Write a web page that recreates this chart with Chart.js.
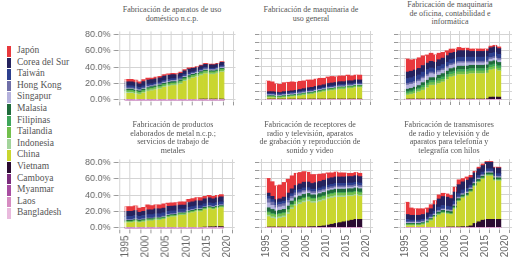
<!DOCTYPE html>
<html>
<head>
<meta charset="utf-8">
<script src="https://cdn.jsdelivr.net/npm/chart.js@4.4.1/dist/chart.umd.min.js"></script>
<style>
  body { margin: 0; background: #fff; width: 525px; height: 259px; position: relative; overflow: hidden; }
  .panel { position: absolute; }
  .title { position: absolute; font-family: "Liberation Serif", serif; font-size: 8px; line-height: 8.6px; color: #555; text-align: center; white-space: nowrap; transform: translateX(-50%); }
  #legend { position: absolute; left: 7px; top: 45px; font-family: "Liberation Serif", serif; font-size: 9.5px; color: #555; }
  #legend div { height: 11.6px; line-height: 11.6px; position: relative; padding-left: 10px; white-space: nowrap; }
  #legend span { position: absolute; left: 0; top: 1px; width: 4px; height: 10.6px; }
</style>
</head>
<body>
<div id="legend"></div>
<script>
const years = [1995,1996,1997,1998,1999,2000,2001,2002,2003,2004,2005,2006,2007,2008,2009,2010,2011,2012,2013,2014,2015,2016,2017,2018];
const countries = ["Japón","Corea del Sur","Taiwán","Hong Kong","Singapur","Malasia","Filipinas","Tailandia","Indonesia","China","Vietnam","Camboya","Myanmar","Laos","Bangladesh"];
const colors = ["#e8383d","#25235e","#2d3f8e","#6f6fa8","#b5b2dd","#1f6b3b","#3fa65b","#72bf4c","#a3d49b","#c9d62f","#2b0b31","#7b2c7c","#a84da1","#d68bc1","#e9badd"];
const xTicks = [1995,1997.5,2000,2002.5,2005,2007.5,2010,2012.5,2015,2017.5,2020];
const yTicks = [0,10,20,30,40,50,60,70,80];

// Fabricación de aparatos de uso doméstico n.c.p.
const hogarJapon    = [3,3,3,2.5,2.5,2.5,2,2,2,2,2,1.5,1.5,1.5,1.5,1.5,1.2,1.2,1,1,1,1,1,1];
const hogarCorea    = [5,5,5,4.5,5,5,5,5,5,5,5,5,4.5,4.5,4.5,4.5,4,4,4,4,4,4,4,4];
const hogarTaiwan   = [2.5,2.5,2.5,2.5,2.5,2.5,2,2,2,2,2,2,2,2,2,2,1.5,1.5,1.5,1.5,1.5,1.5,1.5,1.5];
const hogarHongKong = [0.8,0.8,0.8,0.8,0.8,0.8,0.8,0.8,0.8,0.8,0.8,0.8,0.8,0.8,0.8,0.8,0.8,0.8,0.8,0.8,0.8,0.8,0.8,0.8];
const hogarSingapur = [0.8,0.8,0.8,0.8,0.8,0.8,0.8,0.8,0.8,0.8,0.8,0.8,0.8,0.8,0.8,0.8,0.8,0.8,0.8,0.8,0.8,0.8,0.8,0.8];
const hogarMalasia  = [1.5,1.5,1.5,1.5,1.5,1.5,1.5,1.5,1.5,1.5,1.5,1.5,1.5,1.5,1.5,1.5,1.2,1.2,1.2,1.2,1.2,1.2,1.2,1.2];
const hogarFilipinas= [0.5,0.5,0.5,0.5,0.5,0.5,0.5,0.5,0.5,0.5,0.5,0.5,0.5,0.5,0.5,0.5,0.5,0.5,0.5,0.5,0.5,0.5,0.5,0.5];
const hogarTailandia= [2,2,2,2,2,2,2,2,2,2,2,2,2,2,2,2,2,2,2,2,2,2,2,2];
const hogarIndonesia= [1,1,1,1,1,1,1,1,1,1,1,1,1,1,1,1,1,1,1,1,1,1,1,1];
const hogarChina    = [8,8,7,6,8,10,11,12,13,15,16,17,17,19,22,24,26,27,29,31,30,30,31,33];
const hogarVietnam  = [0.2,0.2,0.2,0.2,0.3,0.3,0.3,0.4,0.4,0.5,0.5,0.5,0.6,0.6,0.7,0.8,0.8,0.9,1,1,1.1,1.1,1.2,1.2];

// Fabricación de maquinaria de uso general
const generalJapon    = [13,12,10,10,11,11,11,10,10,9.5,9.5,9,9,9,8,8,8,7,7,7,7,6,6,6];
const generalCorea    = [2,2,2,1.5,2,2,2,2,2.5,2.5,3,3,3,3,3,3.5,3.5,3.5,3.5,3.5,3.5,3.5,3.5,3.5];
const generalTaiwan   = [1.5,1.5,1.5,1.5,1.5,1.5,1.5,1.5,1.5,1.5,1.5,1.5,1.5,1.5,1.5,1.5,1.5,1.5,1.5,1.5,1.5,1.5,1.5,1.5];
const generalHongKong = [0.5,0.5,0.5,0.5,0.5,0.5,0.5,0.5,0.5,0.5,0.5,0.5,0.5,0.5,0.5,0.5,0.5,0.5,0.5,0.5,0.5,0.5,0.5,0.5];
const generalSingapur = [1,1,1,1,1,1,1,1,1,1,1,1,1,1,1,1,1,1,1,1,1,1,1,1];
const generalMalasia  = [0.7,0.7,0.7,0.7,0.7,0.7,0.7,0.7,0.7,0.7,0.7,0.7,0.7,0.7,0.7,0.7,0.7,0.7,0.7,0.7,0.7,0.7,0.7,0.7];
const generalFilipinas= [0.3,0.3,0.3,0.3,0.3,0.3,0.3,0.3,0.3,0.3,0.3,0.3,0.3,0.3,0.3,0.3,0.3,0.3,0.3,0.3,0.3,0.3,0.3,0.3];
const generalTailandia= [1,1,1,1,1,1,1,1,1.2,1.2,1.2,1.2,1.3,1.3,1.3,1.4,1.4,1.5,1.5,1.5,1.5,1.5,1.5,1.5];
const generalIndonesia= [0.5,0.5,0.5,0.5,0.5,0.5,0.5,0.5,0.5,0.5,0.5,0.5,0.5,0.5,0.5,0.5,0.5,0.5,0.5,0.5,0.5,0.5,0.5,0.5];
const generalChina    = [2,2,1.5,1.5,2,2.5,3,3.5,4,5,5.5,6,7,8,9,10,10.5,11,12,12,13,13,14,14];
const generalVietnam  = [0.2,0.2,0.2,0.2,0.2,0.2,0.2,0.2,0.2,0.2,0.3,0.3,0.3,0.3,0.3,0.3,0.4,0.4,0.4,0.4,0.5,0.5,0.5,0.5];

// Fabricación de maquinaria de oficina, contabilidad e informática
const oficinaJapon    = [16,14,13,13,12,10,10,9,8,7,6,5,4,4,3,3,3,3,3,3,2.5,2,2,2];
const oficinaCorea    = [8,8,8,8,8,8,8,8,8,8,8,8,8,8,8,8,7,7,7,7,7,7,7,7];
const oficinaTaiwan   = [6,6,6,6,6,6,5,5,5,5,5,5,5,5,5,5,5,5,5,5,5,5,5,5];
const oficinaHongKong = [2,2,2,2,2,2,2,2,2,2,2,2,2,2,2,2,2,2,2,2,2,2,2,2];
const oficinaSingapur = [5,5,5,5,5,5,5,4,4,4,4,4,4,4,4,4,3,3,3,3,3,3,3,3];
const oficinaMalasia  = [3,3,3,3,3.5,3.5,3.5,3.5,4,4,4,4,4,4,4,4,4,4,4,4,4,4,4,4];
const oficinaFilipinas= [2,2,2,2,2.5,2.5,2.5,2.5,3,3,3,3,3,3,3,3,3,3,3,3,3,3,3,3];
const oficinaTailandia= [2,2,2.5,2.5,3,3,3,3,3,3,3,3,3,3,3,3,3,3,3,3,3,3,3,3];
const oficinaIndonesia= [0.5,0.5,0.5,0.5,0.5,0.5,0.5,0.5,0.5,0.5,0.5,0.5,0.5,0.5,0.5,0.5,0.5,0.5,0.5,0.5,0.5,0.5,0.5,0.5];
const oficinaChina    = [5,6,7,9,11,14,17,17,19,21,24,27,28,30,30,30,31,31,31,31,31,33,34,32];
const oficinaVietnam  = [0.2,0.2,0.2,0.2,0.2,0.2,0.3,0.3,0.3,0.3,0.3,0.4,0.4,0.4,0.4,0.5,0.5,0.5,0.5,0.5,1,3,3,3];

// Fabricación de productos elaborados de metal
const metalJapon    = [6,6,6,5,5,6,5,5,5,5,4,4,4,4,4,4,4,4,4,3,3,3,3,3];
const metalCorea    = [6,6,6,5,5,6,6,6,6,6,6,6,6,5,5,6,6,6,6,6,6,6,6,6];
const metalTaiwan   = [4,4,4,4,4,4,4,4,4,4,4,3.5,3.5,3.5,3.5,3.5,3.5,3.5,3.5,3.5,3.5,3.5,3.5,3.5];
const metalHongKong = [0.5,0.5,0.5,0.5,0.5,0.5,0.5,0.5,0.5,0.5,0.5,0.5,0.5,0.5,0.5,0.5,0.5,0.5,0.5,0.5,0.5,0.5,0.5,0.5];
const metalSingapur = [0.5,0.5,0.5,0.5,0.5,0.5,0.5,0.5,0.5,0.5,0.5,0.5,0.5,0.5,0.5,0.5,0.5,0.5,0.5,0.5,0.5,0.5,0.5,0.5];
const metalMalasia  = [1,1,1,1,1,1,1,1,1,1,1,1,1,1,1,1,1,1,1,1,1,1,1,1];
const metalFilipinas= [0.3,0.3,0.3,0.3,0.3,0.3,0.3,0.3,0.3,0.3,0.3,0.3,0.3,0.3,0.3,0.3,0.3,0.3,0.3,0.3,0.3,0.3,0.3,0.3];
const metalTailandia= [1.2,1.2,1.2,1.2,1.2,1.2,1.2,1.2,1.2,1.2,1.2,1.2,1.2,1.2,1.2,1.2,1.2,1.2,1.2,1.2,1.2,1.2,1.2,1.2];
const metalIndonesia= [0.5,0.5,0.5,0.5,0.5,0.5,0.5,0.5,0.5,0.5,0.5,0.5,0.5,0.5,0.5,0.5,0.5,0.5,0.5,0.5,0.5,0.5,0.5,0.5];
const metalChina    = [6,6,7,6,7,8,8,9,9,10,12,13,13,15,15,17,18,19,19,21,22,21,22,23];
const metalVietnam  = [0.2,0.2,0.2,0.2,0.2,0.3,0.3,0.3,0.3,0.4,0.4,0.4,0.5,0.5,0.5,0.6,0.6,0.7,0.8,0.9,1,1,1.2,1.2];

// Fabricación de receptores de radio y televisión
const radioJapon    = [18,18,17,17,18,17,16,15,14,13,12,11,10,9,8,7,6,6,5,5,4,4,4,4];
const radioCorea    = [4,4,4,4,5,6,6,6,7,7,7,7,8,8,8,8,8,8,8,8,8,8,8,8];
const radioTaiwan   = [3,3,3,3,3,3,3,3,3,3,3,3,3,3,3,3,3,3,3,3,3,3,3,3];
const radioHongKong = [5,4,3,3,3,3,3,3,2,2,2,2,2,2,2,2,2,2,2,2,2,2,2,2];
const radioSingapur = [6,5,4,4,4,4,3,3,3,3,2,2,2,2,2,2,2,2,2,2,2,2,2,2];
const radioMalasia  = [5,5,4,4,4,4,4,4,4,4,4,4,4,4,4,4,4,4,4,4,4,4,4,4];
const radioFilipinas= [1,1,1,1,1,1,1,1,1,1,1,1,1,1,1,1,1,1,1,1,1,1,1,1];
const radioTailandia= [3,3,3,3,3,3,3,3,3,3,3,3,3,3,3,3,3,3,3,3,3,3,3,3];
const radioIndonesia= [2,2,2,2,2,2,2,2,2,2,2,2,2,2,2,2,2,2,2,2,1.5,1.5,1.5,1.5];
const radioChina    = [13,11,10,11,12,16,22,26,28,30,31,29,29,30,31,32,32,32,31,30,30,29,29,28];
const radioVietnam  = [0.2,0.2,0.2,0.2,0.3,0.3,0.4,0.5,0.5,0.6,0.8,1,1,1.5,2,3,4,5,6,7,8,9,10,10];

// Fabricación de transmisores de radio y televisión y aparatos de telefonía
const telefJapon    = [15,9,8,8,7,6,5,5,5,4,4,4,6,6,4,4,3,2,2,2,1,1,1,1];
const telefCorea    = [6,6,6,6,6,6,7,8,10,11,11,10,11,11,10,10,9,8,8,8,8,8,7,7];
const telefTaiwan   = [3,2,2,2,2,2,3,3,4,4,4,4,4,4,4,4,3,3,3,3,3,3,3,3];
const telefHongKong = [1,1,1,1,1,1,1,1,1,1,1,1,1,1,1,1,1,1,1,1,1,1,1,1];
const telefSingapur = [1,1,1,1,1,1,1,1,1,1,1,1,1,1,1,1,1,1,1,1,1,1,1,1];
const telefMalasia  = [1,1,1,1,1,1,1,1,2,2,2,2,2,2,2,2,2,2,2,2,2,2,2,2];
const telefFilipinas= [0.5,0.5,0.5,0.5,0.5,0.5,0.5,0.5,0.5,0.5,0.5,0.5,0.5,0.5,0.5,0.5,0.5,0.5,0.5,0.5,0.5,0.5,0.5,0.5];
const telefTailandia= [1,1,1,1,1,1,1,1,1,1,1,1,1,1,1,1,1,1,1,1,1,1,1,1];
const telefIndonesia= [0.5,0.5,0.5,0.5,0.5,0.5,0.5,0.5,0.5,0.5,0.5,0.5,0.5,0.5,0.5,0.5,0.5,0.5,0.5,0.5,0.5,0.5,0.5,0.5];
const telefChina    = [2,2,2,2,3,5,8,12,15,17,16,15,22,31,35,37,41,45,48,50,53,53,47,47];
const telefVietnam  = [0,0,0,0,0,0,0,0,0,0,0.2,0.5,0.5,0.5,1,1,2,5,7,9,10,10,10,10];

// small producers (nearly zero in every panel)
const camboyaMetal  = [0,0,0,0,0,0,0,0,0,0,0,0,0,0,0,0,0,0,0,0.2,0.3,0.3,0.3,0.3];
const camboyaOtros  = [0,0,0,0,0,0,0,0,0,0,0,0,0,0,0,0,0,0,0,0,0,0,0,0];
const myanmarTodos  = [0,0,0,0,0,0,0,0,0,0,0,0,0,0,0,0,0,0,0,0,0,0,0,0];
const laosTodos     = [0,0,0,0,0,0,0,0,0,0,0,0,0,0,0,0,0,0,0,0,0,0,0,0];
const banglaTodos   = [0,0,0,0,0,0,0,0,0,0,0,0,0,0,0,0,0,0,0,0,0,0,0,0];

// series follow the order of countries (top of the stack first)
const panels = [
  { title: "Fabricación de aparatos de uso<br>doméstico n.c.p.", tx: 172, ty: 6, col: 0, row: 0,
    series: [hogarJapon,hogarCorea,hogarTaiwan,hogarHongKong,hogarSingapur,hogarMalasia,hogarFilipinas,hogarTailandia,hogarIndonesia,hogarChina,hogarVietnam,camboyaOtros,myanmarTodos,laosTodos,banglaTodos] },
  { title: "Fabricación de maquinaria de<br>uso general", tx: 311, ty: 6, col: 1, row: 0,
    series: [generalJapon,generalCorea,generalTaiwan,generalHongKong,generalSingapur,generalMalasia,generalFilipinas,generalTailandia,generalIndonesia,generalChina,generalVietnam,camboyaOtros,myanmarTodos,laosTodos,banglaTodos] },
  { title: "Fabricación de maquinaria<br>de oficina, contabilidad e<br>informática", tx: 450, ty: 1, col: 2, row: 0,
    series: [oficinaJapon,oficinaCorea,oficinaTaiwan,oficinaHongKong,oficinaSingapur,oficinaMalasia,oficinaFilipinas,oficinaTailandia,oficinaIndonesia,oficinaChina,oficinaVietnam,camboyaOtros,myanmarTodos,laosTodos,banglaTodos] },
  { title: "Fabricación de productos<br>elaborados de metal n.c.p.;<br>servicios de trabajo de<br>metales", tx: 173, ty: 121, col: 0, row: 1,
    series: [metalJapon,metalCorea,metalTaiwan,metalHongKong,metalSingapur,metalMalasia,metalFilipinas,metalTailandia,metalIndonesia,metalChina,metalVietnam,camboyaMetal,myanmarTodos,laosTodos,banglaTodos] },
  { title: "Fabricación de receptores de<br>radio y televisión, aparatos<br>de grabación y reproducción de<br>sonido y video", tx: 310, ty: 121, col: 1, row: 1,
    series: [radioJapon,radioCorea,radioTaiwan,radioHongKong,radioSingapur,radioMalasia,radioFilipinas,radioTailandia,radioIndonesia,radioChina,radioVietnam,camboyaOtros,myanmarTodos,laosTodos,banglaTodos] },
  { title: "Fabricación de transmisores<br>de radio y televisión y de<br>aparatos para telefonía y<br>telegrafía con hilos", tx: 449, ty: 121, col: 2, row: 1,
    series: [telefJapon,telefCorea,telefTaiwan,telefHongKong,telefSingapur,telefMalasia,telefFilipinas,telefTailandia,telefIndonesia,telefChina,telefVietnam,camboyaOtros,myanmarTodos,laosTodos,banglaTodos] }
];

// legend
const legend = document.getElementById("legend");
countries.forEach((c, i) => {
  const row = document.createElement("div");
  row.innerHTML = `<span style="background:${colors[i]}"></span>${c}`;
  legend.appendChild(row);
});

// white lines across the bars at the x grid positions
const barGridPlugin = {
  id: "barGrid",
  afterDatasetsDraw: (chart) => {
    const { ctx, scales } = chart;
    const metas = chart.data.datasets.map((d, i) => chart.getDatasetMeta(i));
    const base = scales.y.getPixelForValue(0);
    ctx.save();
    ctx.strokeStyle = "rgba(255,255,255,0.9)";
    ctx.lineWidth = 1;
    xTicks.forEach((v) => {
      let top = null;
      years.forEach((yr, i) => {
        if (v >= yr && v <= yr + 1) {
          const t = Math.min(...metas.map((m) => m.data[i].y));
          top = top === null ? t : Math.max(top, t);
        }
      });
      if (top === null) return;
      const x = Math.round(scales.x.getPixelForValue(v)) + 0.5;
      ctx.beginPath();
      ctx.moveTo(x, top);
      ctx.lineTo(x, base);
      ctx.stroke();
    });
    ctx.restore();
  }
};

// target plot areas (page pixels)
const colArea = [[118, 235], [259, 373], [398, 512]];
const rowArea = [[31, 102], [159, 230]];

panels.forEach((p) => {
  const [L, R] = colArea[p.col];
  const [T, B] = rowArea[p.row];
  const wrap = document.createElement("div");
  wrap.className = "panel";
  let left = L - (p.col === 0 ? 48 : 6);
  let top = T - 8;
  wrap.style.left = left + "px";
  wrap.style.top = top + "px";
  wrap.style.width = (R - left + 4) + "px";
  wrap.style.height = (B - top + (p.row === 1 ? 30 : 8)) + "px";
  const canvas = document.createElement("canvas");
  wrap.appendChild(canvas);
  document.body.appendChild(wrap);

  const t = document.createElement("div");
  t.className = "title";
  t.style.left = p.tx + "px";
  t.style.top = p.ty + "px";
  t.innerHTML = p.title;
  document.body.appendChild(t);

  // bottom of the stack first
  const datasets = countries.map((c, i) => ({
    label: c,
    data: years.map((yr, j) => ({ x: yr + 0.5, y: p.series[i][j] })),
    backgroundColor: colors[i],
    borderWidth: 0,
    barPercentage: 1,
    categoryPercentage: 1
  })).reverse();

  const chart = new Chart(canvas, {
    type: "bar",
    data: { datasets },
    options: {
      responsive: true,
      maintainAspectRatio: false,
      animation: false,
      layout: { padding: { top: 0, right: 2, left: 0, bottom: 0 } },
      plugins: { legend: { display: false }, tooltip: { enabled: false } },
      scales: {
        x: {
          type: "linear",
          stacked: true,
          min: 1994.5,
          max: 2020.5,
          afterBuildTicks: (scale) => { scale.ticks = xTicks.map((v) => ({ value: v })); },
          grid: { color: "#d4d4d4", tickColor: "#999", tickLength: 3 },
          border: { display: false },
          ticks: {
            display: p.row === 1,
            autoSkip: false,
            minRotation: 90,
            maxRotation: 90,
            padding: 2,
            color: "#666",
            font: { family: "Liberation Sans", size: 10 },
            callback: (v) => (v % 5 === 0 ? String(v) : "")
          }
        },
        y: {
          stacked: true,
          min: -3,
          max: 84,
          afterBuildTicks: (scale) => { scale.ticks = yTicks.map((v) => ({ value: v })); },
          grid: { color: "#d4d4d4", tickColor: "#999", tickLength: 4 },
          border: { display: false },
          ticks: {
            display: p.col === 0,
            padding: 3,
            color: "#666",
            font: { family: "Liberation Sans", size: 9 },
            callback: (v) => (v % 20 === 0 ? v.toFixed(1) + "%" : "")
          }
        }
      }
    },
    plugins: [barGridPlugin]
  });

  // fit the plot area onto the target box
  let ca = chart.chartArea;
  const w = wrap.offsetWidth + (R - L) - (ca.right - ca.left);
  const h = wrap.offsetHeight + (B - T) - (ca.bottom - ca.top);
  wrap.style.width = w + "px";
  wrap.style.height = h + "px";
  chart.resize(w, h);
  ca = chart.chartArea;
  wrap.style.left = (left + L - (left + ca.left)) + "px";
  wrap.style.top = (top + T - (top + ca.top)) + "px";
});
</script>
</body>
</html>
